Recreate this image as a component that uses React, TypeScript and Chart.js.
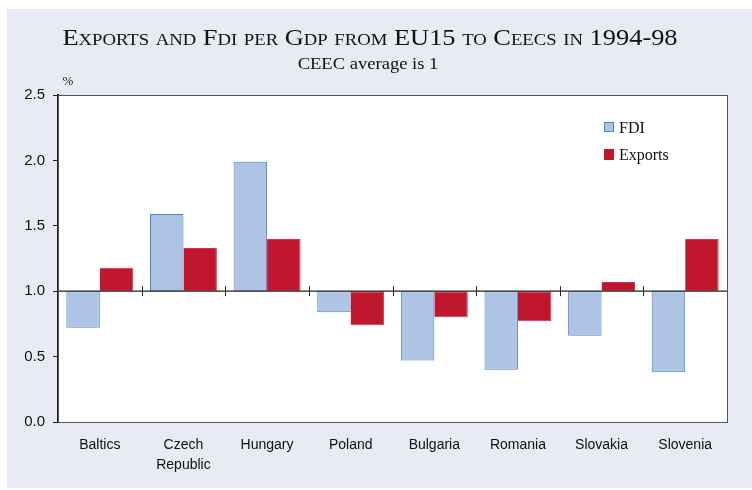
import React, { useEffect, useRef } from "react";
import { Chart, registerables } from "chart.js";

Chart.register(...registerables);

const categories: (string | string[])[] = [
  "Baltics",
  ["Czech", "Republic"],
  "Hungary",
  "Poland",
  "Bulgaria",
  "Romania",
  "Slovakia",
  "Slovenia",
];
const fdiValues = [0.72, 1.59, 1.99, 0.84, 0.47, 0.4, 0.66, 0.38];
const exportValues = [1.18, 1.33, 1.4, 0.74, 0.8, 0.77, 1.07, 1.4];
const baseline = 1;
const yTicks = [0, 0.5, 1, 1.5, 2, 2.5];
const titleText = "Exports and Fdi per Gdp from EU15 to Ceecs in 1994-98";
const subtitleText = "CEEC average is 1";
const unitText = "%";
const seriesNames = ["FDI", "Exports"];

const FDI_FILL = "#aec4e5";
const FDI_BORDER = "#4f83c4";
const EXP_FILL = "#c0172f";
const BG = "#e8eaf5";
const SERIF = "'Liberation Serif', 'Times New Roman', serif";
const SANS = "'Liberation Sans', Arial, sans-serif";

const W = 745;
const H = 479;

function stretchedText(ctx: any, text: string, cx: number, by: number, sx: number) {
  ctx.save();
  ctx.translate(cx, by);
  ctx.scale(sx, 1);
  ctx.fillText(text, 0, 0);
  ctx.restore();
}

const decorPlugin = {
  id: "decor",
  beforeDraw(chart: any) {
    const { ctx, chartArea } = chart;
    ctx.save();
    ctx.fillStyle = "#ffffff";
    ctx.fillRect(chartArea.left, chartArea.top, chartArea.right - chartArea.left, chartArea.bottom - chartArea.top);
    ctx.restore();
  },
  afterDatasetsDraw(chart: any) {
    const { ctx, chartArea, scales } = chart;
    const x = scales.x;
    const y = scales.y;
    const yb = y.getPixelForValue(baseline);
    ctx.save();
    ctx.strokeStyle = "#222";
    ctx.lineWidth = 1.3;
    ctx.beginPath();
    ctx.moveTo(chartArea.left, yb);
    ctx.lineTo(chartArea.right, yb);
    ctx.stroke();
    const step = x.getPixelForValue(1) - x.getPixelForValue(0);
    ctx.lineWidth = 1;
    for (let i = 0; i <= categories.length; i++) {
      const px = Math.round(x.getPixelForValue(0) - step / 2 + i * step) + 0.5;
      ctx.beginPath();
      ctx.moveTo(px, yb - 5);
      ctx.lineTo(px, yb + 5);
      ctx.stroke();
    }
    ctx.strokeStyle = "#555";
    ctx.lineWidth = 1;
    ctx.strokeRect(chartArea.left + 0.5, chartArea.top + 0.5, chartArea.right - chartArea.left, chartArea.bottom - chartArea.top);
    ctx.restore();
  },
  afterDraw(chart: any) {
    const { ctx, chartArea } = chart;
    ctx.save();
    ctx.fillStyle = "#111";
    ctx.textAlign = "center";
    ctx.textBaseline = "alphabetic";
    ctx.font = `small-caps 24px ${SERIF}`;
    try { (ctx as any).fontVariantCaps = "small-caps"; } catch (e) {}
    stretchedText(ctx, titleText, 363, 35.5, 1.1);
    try { (ctx as any).fontVariantCaps = "normal"; } catch (e) {}
    ctx.font = `16px ${SERIF}`;
    stretchedText(ctx, subtitleText, 361, 59.5, 1.16);
    ctx.font = `13px ${SERIF}`;
    ctx.fillText(unitText, chartArea.left + 10, chartArea.top - 10);
    const lx = chartArea.right - 123;
    const ly = chartArea.top + 27;
    ctx.textAlign = "left";
    ctx.font = `16px ${SERIF}`;
    ctx.fillStyle = FDI_FILL;
    ctx.fillRect(lx, ly, 10, 10);
    ctx.strokeStyle = FDI_BORDER;
    ctx.lineWidth = 1;
    ctx.strokeRect(lx + 0.5, ly + 0.5, 9, 9);
    ctx.fillStyle = "#111";
    ctx.fillText(seriesNames[0], lx + 15, ly + 10.5);
    ctx.fillStyle = EXP_FILL;
    ctx.fillRect(lx, ly + 27, 10, 11);
    ctx.fillStyle = "#111";
    ctx.fillText(seriesNames[1], lx + 15, ly + 37.5);
    ctx.restore();
  },
};

export default function App() {
  const ref = useRef<HTMLCanvasElement | null>(null);
  useEffect(() => {
    if (!ref.current) return;
    const chart = new Chart(ref.current, {
      type: "bar",
      data: {
        labels: categories as any,
        datasets: [
          {
            label: seriesNames[0],
            data: fdiValues.map((v) => [baseline, v]) as any,
            backgroundColor: FDI_FILL,
            borderColor: FDI_BORDER,
            borderWidth: 1,
            borderSkipped: false,
          },
          {
            label: seriesNames[1],
            data: exportValues.map((v) => [baseline, v]) as any,
            backgroundColor: EXP_FILL,
            borderColor: "#cf3448",
            borderWidth: { left: 0, top: 1, right: 1, bottom: 1 } as any,
            borderSkipped: false,
          },
        ],
      },
      options: {
        responsive: false,
        animation: false,
        layout: { padding: { top: 86, right: 25, left: 0, bottom: 0 } },
        datasets: { bar: { barPercentage: 1, categoryPercentage: 0.8 } },
        plugins: {
          legend: { display: false },
          title: { display: false },
          tooltip: { enabled: false },
        },
        scales: {
          x: {
            offset: true,
            grid: { display: false, drawTicks: false },
            border: { display: false },
            ticks: {
              color: "#111",
              font: { family: SANS, size: 14, lineHeight: 1.43 },
              padding: 13,
              maxRotation: 0,
              autoSkip: false,
            },
            afterFit: (s: any) => {
              s.height = 66;
            },
          },
          y: {
            min: 0,
            max: 2.5,
            afterBuildTicks: (s: any) => {
              s.ticks = yTicks.map((v) => ({ value: v }));
            },
            grid: { drawOnChartArea: false, drawTicks: true, tickLength: 5, color: "#222", lineWidth: 1 },
            border: { display: true, color: "#222", width: 2 },
            ticks: {
              color: "#111",
              font: { family: SANS, size: 15 },
              padding: 8,
              callback: (v: any) => Number(v).toFixed(1),
            },
            afterFit: (s: any) => {
              s.width = 51;
            },
          },
        },
      },
      plugins: [decorPlugin],
    });
    return () => chart.destroy();
  }, []);
  return (
    <div
      style={{
        position: "fixed",
        left: 7,
        top: 9,
        width: W,
        height: H,
        background: BG,
      }}
    >
      <canvas ref={ref} width={W} height={H} style={{ display: "block" }} />
    </div>
  );
}
